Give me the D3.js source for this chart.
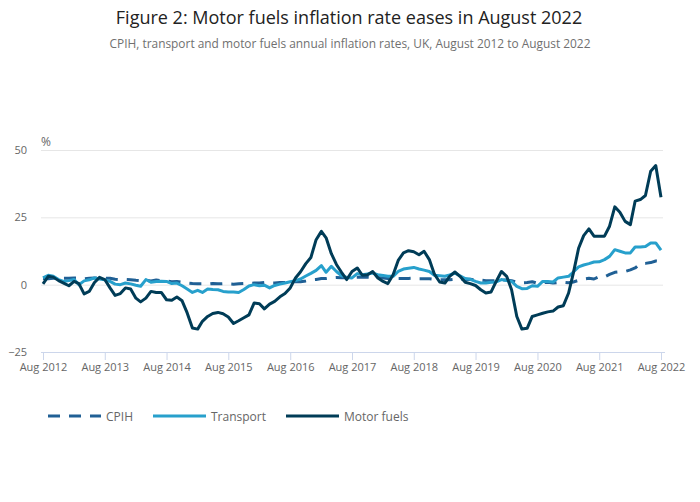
<!DOCTYPE html>
<html>
<head>
<meta charset="utf-8">
<script src="https://cdn.jsdelivr.net/npm/d3@7"></script>
<style>
  html, body { margin: 0; padding: 0; background: #fff; }
  svg { display: block; font-family: "Open Sans", sans-serif; }
</style>
</head>
<body>
<svg id="chart" width="700" height="502"></svg>
<script>
// ---- Data (monthly, Aug 2012 to Aug 2022) ----
const startYear = 2012, startMonth = 7; // August (0-based)
const cpih = [
  2.3, 2.2, 2.4, 2.4, 2.4,
  2.4, 2.5, 2.4, 2.2, 2.4, 2.5, 2.5, 2.4, 2.4, 2.0, 1.9, 1.9,
  1.8, 1.6, 1.5, 1.6, 1.4, 1.7, 1.5, 1.4, 1.1, 1.2, 0.9, 0.6,
  0.4, 0.3, 0.3, 0.2, 0.4, 0.3, 0.4, 0.3, 0.2, 0.3, 0.4, 0.5,
  0.6, 0.6, 0.8, 0.6, 0.6, 0.8, 0.8, 0.9, 1.2, 1.1, 1.4, 1.8,
  1.9, 2.3, 2.3, 2.6, 2.7, 2.6, 2.6, 2.7, 2.8, 2.8, 2.8, 2.7,
  2.7, 2.5, 2.3, 2.2, 2.3, 2.3, 2.3, 2.4, 2.2, 2.2, 2.2, 2.0,
  1.8, 1.8, 1.8, 2.0, 1.9, 1.9, 2.0, 1.7, 1.7, 1.5, 1.5, 1.4,
  1.8, 1.7, 1.5, 0.9, 0.7, 0.8, 1.1, 0.5, 0.7, 0.9, 0.6, 0.8,
  0.9, 0.7, 1.0, 1.6, 2.1, 2.4, 2.1, 3.0, 2.9, 3.8, 4.6, 4.8,
  4.9, 5.5, 6.2, 7.8, 7.9, 8.2, 8.8, 8.6
];
const transport = [
  2.5, 3.5, 3.1, 1.9, 1.2,
  1.5, 1.9, 0.0, 1.4, 1.8, 2.5, 2.1, 1.8, 1.2, 0.2, 0.0, 0.6,
  0.3, -0.2, -0.6, 1.9, 0.9, 1.2, 1.3, 1.2, 0.4, 0.6, -0.4, -1.6,
  -2.9, -2.1, -2.9, -1.6, -1.8, -1.9, -2.5, -2.7, -2.7, -2.9, -1.8, -0.5,
  0.0, -0.4, -0.2, -1.2, -0.3, 0.2, 0.6, 1.1, 1.5, 2.1, 3.2, 4.2,
  5.3, 7.1, 4.6, 6.8, 4.9, 3.3, 2.7, 2.5, 4.1, 3.7, 4.0, 4.3,
  3.7, 3.4, 3.1, 3.1, 4.9, 5.8, 6.1, 6.4, 5.8, 5.4, 4.9, 3.5,
  3.3, 3.1, 3.6, 4.3, 3.3, 2.3, 2.0, 1.2, 0.6, 0.6, 0.9, 1.0,
  1.9, 1.5, 1.2, -0.6, -1.5, -1.4, -0.4, -0.6, 1.2, 1.2, 1.0, 2.5,
  2.8, 3.1, 4.7, 6.6, 7.3, 7.8, 8.4, 8.5, 9.3, 10.5, 13.0, 12.4,
  11.8, 11.8, 14.0, 14.0, 14.2, 15.5, 15.5, 12.8
];
const motorFuels = [
  0.3, 3.1, 2.8, 1.5, 0.6,
  -0.4, 1.2, 0.4, -3.4, -2.5, 0.8, 2.7, 1.9, -1.2, -4.0, -3.3, -1.2,
  -1.6, -5.0, -6.4, -5.0, -2.5, -2.9, -2.9, -5.6, -5.8, -4.6, -6.0, -10.5,
  -16.1, -16.5, -13.6, -11.8, -10.7, -10.3, -10.8, -12.0, -14.4, -13.4, -12.3, -11.2,
  -6.8, -7.1, -9.0, -7.2, -6.2, -4.5, -3.3, -1.2, 2.5, 4.8, 7.8, 10.1,
  16.7, 19.8, 17.4, 11.5, 7.5, 4.5, 1.9, 4.9, 6.2, 3.5, 3.7, 4.9,
  2.5, 1.2, 0.4, 3.7, 9.0, 11.8, 12.6, 12.2, 11.1, 12.4, 9.3, 3.9,
  1.0, 0.6, 3.1, 4.7, 3.1, 0.9, 0.4, -0.3, -1.9, -3.1, -2.7, 1.2,
  4.9, 3.1, -1.9, -11.8, -16.5, -16.2, -11.8, -11.2, -10.6, -10.1, -9.8, -8.3,
  -7.8, -3.1, 4.3, 13.5, 18.2, 20.7, 18.0, 18.0, 18.0, 21.7, 28.9, 26.9,
  23.5, 22.3, 31.0, 31.6, 33.1, 42.1, 44.2, 32.5
];
const yTicks = [-25, 0, 25, 50];
const xTickYears = [2012, 2013, 2014, 2015, 2016, 2017, 2018, 2019, 2020, 2021, 2022];
const seriesNames = ["CPIH", "Transport", "Motor fuels"];
const seriesColors = ["#206095", "#27a0cc", "#003c57"];

const titleText = "Figure 2: Motor fuels inflation rate eases in August 2022";
const subtitleText = "CPIH, transport and motor fuels annual inflation rates, UK, August 2012 to August 2022";

// ---- Build ----
const dates = cpih.map((_, i) => new Date(startYear, startMonth + i, 1));
const series = [cpih, transport, motorFuels];

const svg = d3.select("#chart");
const plotLeft = 43, plotRight = 661, plotTop = 150, plotBottom = 352;

const x = d3.scaleTime()
  .domain([dates[0], dates[dates.length - 1]])
  .range([plotLeft, plotRight]);
const y = d3.scaleLinear().domain([-25, 50]).range([plotBottom, plotTop]);

// Title & subtitle
svg.append("text").attr("x", 349).attr("y", 24).attr("text-anchor", "middle")
  .attr("font-size", 18).attr("fill", "#222").text(titleText);
svg.append("text").attr("x", 350).attr("y", 48).attr("text-anchor", "middle")
  .attr("font-size", 11.9).attr("fill", "#707070").text(subtitleText);

// Gridlines + y labels
const yAxis = d3.axisLeft(y).tickValues(yTicks).tickSize(-(plotRight - plotLeft + 4)).tickPadding(14);
const gy = svg.append("g").attr("transform", `translate(${plotLeft - 2},0)`).call(yAxis);
gy.select(".domain").remove();
gy.selectAll(".tick line").attr("stroke", "#e6e6e6").attr("stroke-width", 1);
gy.selectAll(".tick text").attr("font-size", 11).attr("fill", "#666")
  .attr("font-family", "Open Sans, sans-serif");

// "%" unit label
svg.append("text").attr("x", 41).attr("y", 146).attr("font-size", 12)
  .attr("fill", "#666").text("%");

// X axis
const xAxis = d3.axisBottom(x)
  .tickValues(xTickYears.map(yr => new Date(yr, 7, 1)))
  .tickFormat(d3.timeFormat("Aug %Y"))
  .tickSize(8).tickSizeOuter(0).tickPadding(3);
const gx = svg.append("g").attr("transform", `translate(0,${plotBottom})`).call(xAxis);
gx.select(".domain").attr("stroke", "#ccd6eb").attr("d", `M${plotLeft - 2},0.5H${plotRight + 4}`);
gx.selectAll(".tick line").attr("stroke", "#ccd6eb");
gx.selectAll(".tick text").attr("font-size", 11).attr("fill", "#666")
  .attr("font-family", "Open Sans, sans-serif");

// Lines
const line = d3.line().x((d, i) => x(dates[i])).y(d => y(d));
series.forEach((s, k) => {
  svg.append("path").datum(s)
    .attr("fill", "none")
    .attr("stroke", seriesColors[k])
    .attr("stroke-width", 3)
    .attr("stroke-linejoin", "round")
    .attr("stroke-dasharray", k === 0 ? "12,9" : null)
    .attr("d", line);
});

// Legend
const legendItems = [
  { x: 48, tx: 106 },
  { x: 153, tx: 211 },
  { x: 286, tx: 344 }
];
const ly = 416;
legendItems.forEach((it, k) => {
  svg.append("line").attr("x1", it.x).attr("x2", it.x + 53)
    .attr("y1", ly).attr("y2", ly)
    .attr("stroke", seriesColors[k]).attr("stroke-width", 3)
    .attr("stroke-dasharray", k === 0 ? "12,9" : null);
  svg.append("text").attr("x", it.tx).attr("y", ly + 4.5)
    .attr("font-size", 12).attr("fill", "#666").text(seriesNames[k]);
});
</script>
</body>
</html>
